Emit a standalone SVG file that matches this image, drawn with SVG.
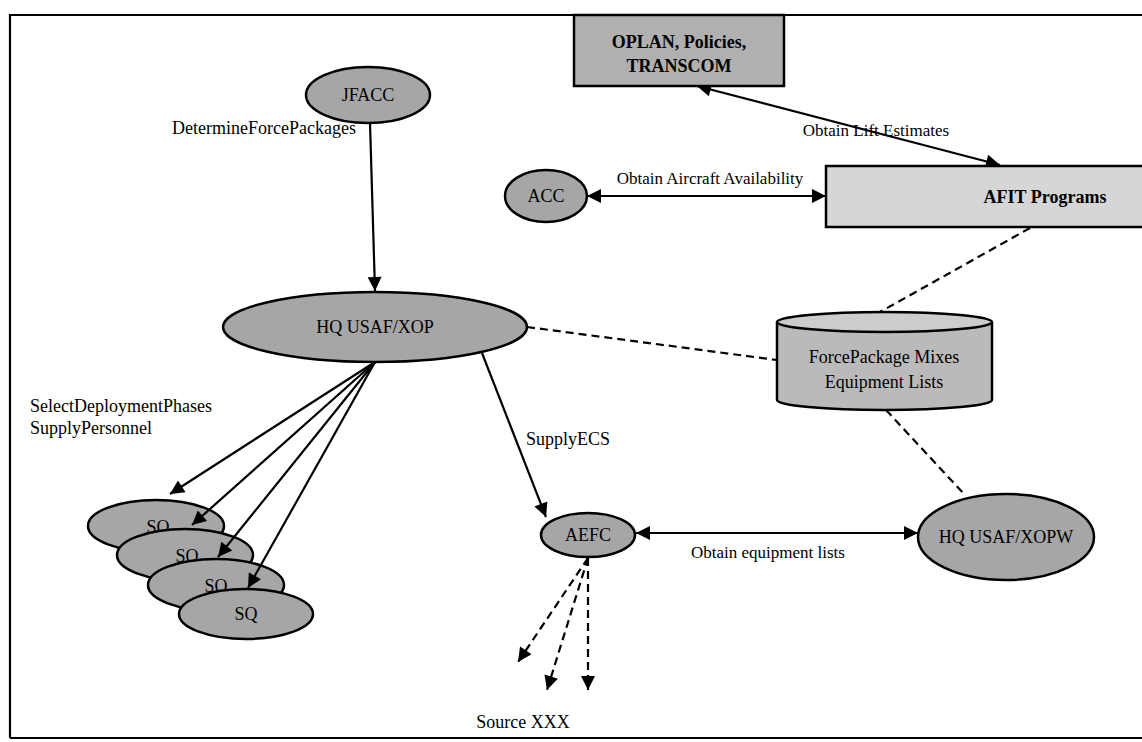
<svg xmlns="http://www.w3.org/2000/svg" width="1142" height="742" viewBox="0 0 1142 742">
<style>
.lbl{font-family:"Liberation Serif",serif;font-size:18px;fill:#000}
.cl{font-family:"Liberation Serif",serif;font-size:17px;fill:#000;text-anchor:middle}
.nt{font-family:"Liberation Serif",serif;font-size:18px;fill:#000;text-anchor:middle}
.bt{font-family:"Liberation Serif",serif;font-size:18px;font-weight:bold;fill:#000;text-anchor:middle}
.el{fill:#a6a6a6;stroke:#000;stroke-width:2.5}
.box{stroke:#000;stroke-width:2.5}
.ln{fill:none;stroke:#000;stroke-width:2.2}
.dl{fill:none;stroke:#000;stroke-width:2.2;stroke-dasharray:8,5}
</style>
<defs>
<marker id="ah" viewBox="0 0 10 10" refX="10" refY="5" markerWidth="19" markerHeight="14" markerUnits="userSpaceOnUse" orient="auto-start-reverse">
<path d="M0,0 L10,5 L0,10 Z" fill="#000"/>
</marker>
</defs>
<rect width="1142" height="742" fill="#fff"/>
<g id="frame">
<polyline points="10,738 10,15 1142,15" class="ln" stroke-width="2.5"/>
<line x1="10" y1="738" x2="1142" y2="738" class="ln" stroke-width="3"/>
</g>
<g id="sq1"><ellipse cx="156" cy="526" rx="68" ry="26" class="el"/><text x="158" y="533" class="nt">SQ</text></g>
<g id="sq2"><ellipse cx="185" cy="555" rx="68" ry="26" class="el"/><text x="187" y="562" class="nt">SQ</text></g>
<g id="sq3"><ellipse cx="216" cy="585" rx="68" ry="26" class="el"/><text x="216" y="592" class="nt">SQ</text></g>
<g id="sq4"><ellipse cx="246" cy="614" rx="67" ry="25" class="el"/><text x="246" y="620" class="nt">SQ</text></g>
<g id="connectors">
<line x1="370" y1="123" x2="375" y2="291" class="ln" marker-end="url(#ah)"/>
<line x1="375" y1="362" x2="170" y2="494" class="ln" marker-end="url(#ah)"/>
<line x1="375" y1="362" x2="192" y2="525" class="ln" marker-end="url(#ah)"/>
<line x1="375" y1="362" x2="218" y2="557" class="ln" marker-end="url(#ah)"/>
<line x1="375" y1="362" x2="248" y2="588" class="ln" marker-end="url(#ah)"/>
<line x1="482" y1="353" x2="546" y2="517" class="ln" marker-end="url(#ah)"/>
<line x1="587" y1="196" x2="826" y2="196" class="ln" marker-start="url(#ah)" marker-end="url(#ah)"/>
<line x1="697" y1="86" x2="1000" y2="165" class="ln" marker-start="url(#ah)" marker-end="url(#ah)"/>
<line x1="636" y1="533" x2="918" y2="533" class="ln" marker-start="url(#ah)" marker-end="url(#ah)"/>
<line x1="1030" y1="228" x2="880" y2="312" class="dl"/>
<line x1="527" y1="327" x2="777" y2="360" class="dl"/>
<line x1="886" y1="410" x2="965" y2="495" class="dl"/>
<line x1="588" y1="558" x2="518" y2="662" class="dl" marker-end="url(#ah)"/>
<line x1="588" y1="558" x2="547" y2="690" class="dl" marker-end="url(#ah)"/>
<line x1="588" y1="558" x2="588" y2="690" class="dl" marker-end="url(#ah)"/>
</g>
<g id="labels">
<text x="172" y="134" class="lbl" font-size="16.5">DetermineForcePackages</text>
<text x="30" y="412" class="lbl" font-size="19">SelectDeploymentPhases</text>
<text x="30" y="434" class="lbl" font-size="19">SupplyPersonnel</text>
<text x="526" y="445" class="lbl">SupplyECS</text>
<text x="710" y="184" class="cl">Obtain Aircraft Availability</text>
<text x="876" y="136" class="cl">Obtain Lift Estimates</text>
<text x="768" y="558" class="cl">Obtain equipment lists</text>
<text x="523" y="728" class="nt">Source XXX</text>
</g>
<g id="oplan"><rect x="574" y="15" width="210" height="71" fill="#b0b0b0" class="box"/><text x="679" y="48" class="bt">OPLAN, Policies,</text><text x="679" y="72" class="bt">TRANSCOM</text></g>
<g id="jfacc"><ellipse cx="368" cy="95" rx="62" ry="28" class="el"/><text x="368" y="101" class="nt">JFACC</text></g>
<g id="hqxop"><ellipse cx="375" cy="327" rx="152" ry="35" class="el"/><text x="375" y="333" class="nt">HQ USAF/XOP</text></g>
<g id="acc"><ellipse cx="546" cy="196" rx="41" ry="26" class="el"/><text x="546" y="202" class="nt">ACC</text></g>
<g id="afit"><rect x="826" y="166" width="320" height="61" fill="#d6d6d6" class="box"/><text x="1045" y="203" class="bt" font-size="19">AFIT Programs</text></g>
<g id="db"><path d="M777,322 V400 A107.5,10 0 0 0 992,400 V322" fill="#bababa" stroke="#000" stroke-width="2.5"/><ellipse cx="884.5" cy="322" rx="107.5" ry="10" fill="#cccccc" stroke="#000" stroke-width="2.5"/><text x="884" y="363" class="nt" font-size="19">ForcePackage Mixes</text><text x="884" y="388" class="nt" font-size="19">Equipment Lists</text></g>
<g id="hqxopw"><ellipse cx="1006" cy="537" rx="88" ry="43" class="el"/><text x="1006" y="543" class="nt">HQ USAF/XOPW</text></g>
<g id="aefc"><ellipse cx="588" cy="535" rx="47" ry="22" class="el"/><text x="588" y="541" class="nt">AEFC</text></g>
</svg>
